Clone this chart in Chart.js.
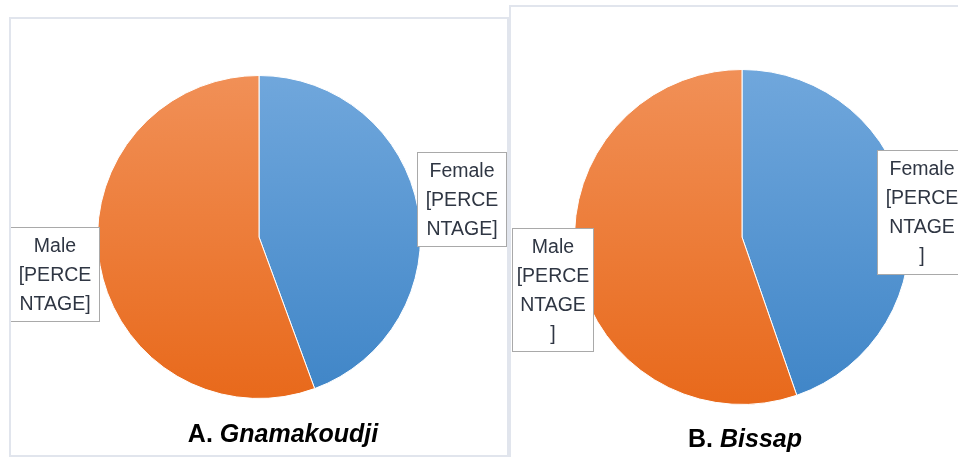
<!DOCTYPE html>
<html>
<head>
<meta charset="utf-8">
<script src="https://cdn.jsdelivr.net/npm/chart.js@4/dist/chart.umd.min.js"></script>
<style>
  html, body { margin: 0; padding: 0; background: #fff; }
  body { width: 958px; height: 457px; position: relative; overflow: hidden; }
  .panel { position: absolute; border: 2px solid #e1e5ed; background: #fff; overflow: hidden; }
  #panelA { left: 9px; top: 17px; width: 496px; height: 436px; z-index: 2; }
  #panelB { left: 509px; top: 5px; width: 460px; height: 470px; z-index: 1; }
  .panel canvas { position: absolute; left: 0; top: 0; }
  .title { position: absolute; font-family: "Liberation Sans", Arial, sans-serif; font-weight: bold;
           font-size: 25px; color: #000; white-space: nowrap; transform: translate(-50%, -50%); }
</style>
</head>
<body>
<div class="panel" id="panelA">
  <canvas id="chartA" width="496" height="436"></canvas>
  <div class="title" style="left:272px; top:414px;">A. <i>Gnamakoudji</i></div>
</div>
<div class="panel" id="panelB">
  <canvas id="chartB" width="447" height="450"></canvas>
  <div class="title" style="left:234px; top:431px;">B. <i>Bissap</i></div>
</div>
<script>
// categories and values
const categories = ['Female', 'Male'];
const gnamakoudjiValues = [44.4, 55.6];
const bissapValues = [44.7, 55.3];

// data label text as wrapped in the picture
const labelsA = [['Female', '[PERCE', 'NTAGE]'], ['Male', '[PERCE', 'NTAGE]']];
const labelsB = [['Female', '[PERCE', 'NTAGE', ']'], ['Male', '[PERCE', 'NTAGE', ']']];

// gradient fills, top -> bottom, one pair per category
const sliceStops = [['#70a7dc', '#3f85c7'], ['#f19057', '#e8691b']];

function sliceFill(ctx) {
    const stops = sliceStops[ctx.dataIndex] || sliceStops[0];
    const area = ctx.chart.chartArea;
    if (!area) return stops[1];
    const g = ctx.chart.ctx.createLinearGradient(0, area.top, 0, area.bottom);
    g.addColorStop(0, stops[0]);
    g.addColorStop(1, stops[1]);
    return g;
}

// draws the boxed data labels, placed relative to the pie centre
const boxLabels = {
    id: 'boxLabels',
    afterDatasetsDraw(chart, args, opts) {
        const ctx = chart.ctx;
        const arc = chart.getDatasetMeta(0).data[0];
        const cx = arc.x, cy = arc.y;
        ctx.save();
        ctx.font = '19.5px "Liberation Sans", Arial, sans-serif';
        ctx.textAlign = 'center';
        ctx.textBaseline = 'middle';
        opts.boxes.forEach(function(b, i) {
            const x = cx + b.dx, y = cy + b.dy;
            ctx.fillStyle = '#ffffff';
            ctx.fillRect(x, y, b.w, b.h);
            ctx.strokeStyle = '#a9a9a9';
            ctx.lineWidth = 1;
            ctx.strokeRect(x + 0.5, y + 0.5, b.w - 1, b.h - 1);
            ctx.fillStyle = '#2f3643';
            opts.lines[i].forEach(function(line, j) {
                ctx.fillText(line, x + b.w / 2, y + 20 + j * 29);
            });
        });
        ctx.restore();
    }
};

function makePie(id, values, lines, padding, boxes) {
    new Chart(document.getElementById(id), {
        type: 'pie',
        data: {
            labels: categories,
            datasets: [{
                data: values,
                backgroundColor: sliceFill,
                borderColor: '#ffffff',
                borderWidth: 1
            }]
        },
        options: {
            responsive: false,
            animation: false,
            layout: { padding: padding },
            plugins: {
                legend: { display: false },
                tooltip: { enabled: false },
                boxLabels: { lines: lines, boxes: boxes }
            }
        },
        plugins: [boxLabels]
    });
}

makePie('chartA', gnamakoudjiValues, labelsA,
    { left: 86, right: 86, top: 56, bottom: 56 },
    [{ dx: 158, dy: -85, w: 90, h: 95 }, { dx: -249, dy: -10, w: 90, h: 95 }]);

makePie('chartB', bissapValues, labelsB,
    { left: 63, right: 48, top: 62, bottom: 52 },
    [{ dx: 135, dy: -87, w: 90, h: 125 }, { dx: -230, dy: -9, w: 82, h: 124 }]);
</script>
</body>
</html>
